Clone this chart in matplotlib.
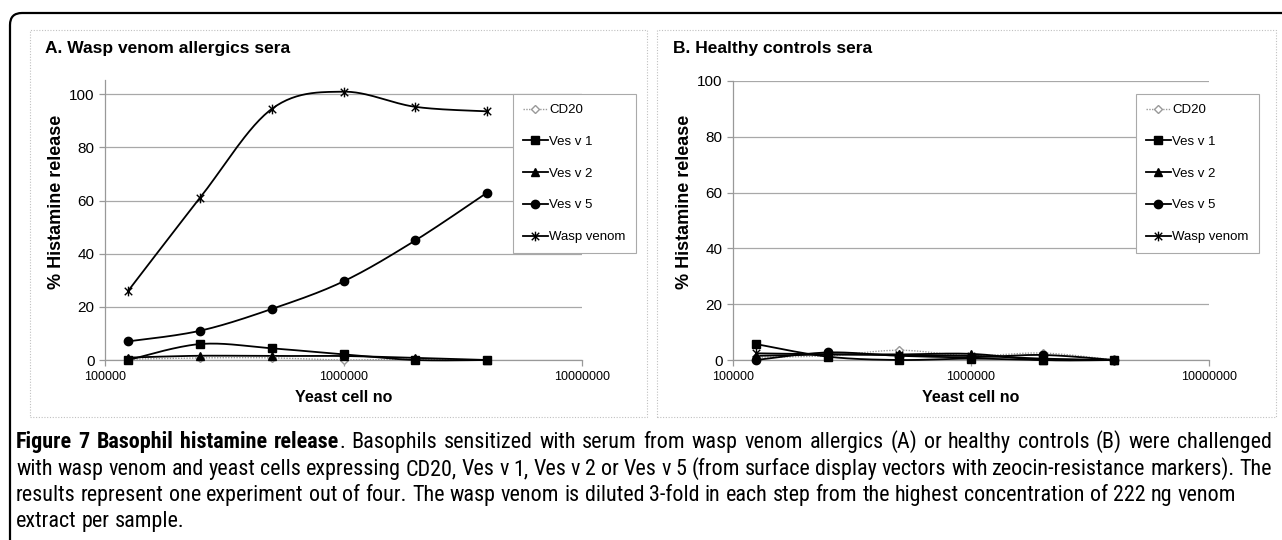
import numpy as np
import matplotlib
matplotlib.use("Agg")
import matplotlib.pyplot as plt
from matplotlib.lines import Line2D
from matplotlib.path import Path
from matplotlib.patches import FancyBboxPatch, Rectangle
from matplotlib.transforms import IdentityTransform
from matplotlib import font_manager

plt.rcParams["font.family"] = "Liberation Sans"

# yeast cells per sample
cells = [125000, 250000, 500000, 1000000, 2000000, 4000000]
labels = ["CD20", "Ves v 1", "Ves v 2", "Ves v 5", "Wasp venom"]

# A. wasp venom allergics sera (% histamine release)
a_cd20 = [0.3, 0.8, 0.8, 0.0, 0.3, 0.0]
a_vesv1 = [0.0, 6.0, 4.4, 2.1, 0.0, 0.0]
a_vesv2 = [0.9, 1.6, 1.5, 1.5, 0.8, 0.0]
a_vesv5 = [7.0, 11.0, 19.2, 29.6, 45.0, 63.0]
a_wasp = [26.0, 61.0, 94.5, 101.0, 95.3, 93.6]

# B. healthy controls sera
b_cd20 = [1.0, 1.5, 3.5, 1.5, 2.5, 0.0]
b_vesv1 = [5.7, 1.2, 0.0, 0.5, 0.0, 0.0]
b_vesv2 = [1.5, 2.0, 2.0, 2.2, 0.0, 0.0]
b_vesv5 = [0.0, 2.7, 1.5, 1.0, 1.8, 0.0]
b_wasp = [2.4, 2.0, 1.8, 1.5, 0.5, 0.0]

yticks = [0, 20, 40, 60, 80, 100]
xticks = [100000, 1000000, 10000000]

caption_bold = "Figure 7 Basophil histamine release"
caption_lines = [
    ". Basophils sensitized with serum from wasp venom allergics (A) or healthy controls (B) were challenged",
    "with wasp venom and yeast cells expressing CD20, Ves v 1, Ves v 2 or Ves v 5 (from surface display vectors with zeocin-resistance markers). The",
    "results represent one experiment out of four. The wasp venom is diluted 3-fold in each step from the highest concentration of 222 ng venom",
    "extract per sample.",
]

W, H = 1282, 540

# excel style asterisk marker
star = Path([(-1, -1), (1, 1), (-1, 1), (1, -1), (0, -1.3), (0, 1.3)],
            [Path.MOVETO, Path.LINETO] * 3)

styles = {
    "CD20": dict(color="#999999", ls=(0, (1, 1)), lw=1.0, marker="D", ms=4.5, mfc="white", mec="#999999"),
    "Ves v 1": dict(color="black", ls="-", lw=1.3, marker="s", ms=6, mfc="black", mec="black"),
    "Ves v 2": dict(color="black", ls="-", lw=1.3, marker="^", ms=6, mfc="black", mec="black"),
    "Ves v 5": dict(color="black", ls="-", lw=1.3, marker="o", ms=6, mfc="black", mec="black"),
    "Wasp venom": dict(color="black", ls="-", lw=1.3, marker=star, ms=7, mfc="none", mec="black"),
}


def smooth(xs, ys, n=30):
    # catmull-rom bezier like excel's smoothed line, in log-x space
    px = np.log10(np.array(xs, float))
    py = np.array(ys, float)
    ox, oy = [], []
    for i in range(len(px) - 1):
        i0 = max(i - 1, 0)
        i3 = min(i + 2, len(px) - 1)
        p0 = np.array([px[i], py[i]])
        p3 = np.array([px[i + 1], py[i + 1]])
        c1 = p0 + (p3 - np.array([px[i0], py[i0]])) / 6
        c2 = p3 - (np.array([px[i3], py[i3]]) - p0) / 6
        t = np.linspace(0, 1, n)[:, None]
        b = (1 - t) ** 3 * p0 + 3 * (1 - t) ** 2 * t * c1 + 3 * (1 - t) * t ** 2 * c2 + t ** 3 * p3
        ox.extend(b[:, 0])
        oy.extend(b[:, 1])
    return 10 ** np.array(ox), np.array(oy)


def panel(rect, data, ymax, title, legend_xy):
    x0, y0, x1, y1 = rect  # pixel box of the plot area (top-left origin)
    ax = fig.add_axes([x0 / W, 1 - y1 / H, (x1 - x0) / W, (y1 - y0) / H])
    for lab, ys in zip(labels, data):
        st = styles[lab]
        sx, sy = smooth(cells, ys)
        ax.plot(sx, sy, color=st["color"], ls=st["ls"], lw=st["lw"], zorder=3, clip_on=False)
        ax.plot(cells, ys, ls="none", marker=st["marker"], ms=st["ms"], mfc=st["mfc"],
                mec=st["mec"], mew=1.0, zorder=4, clip_on=False)
    ax.set_xscale("log")
    ax.set_xlim(1e5, 1e7)
    ax.set_ylim(0, ymax)
    ax.set_xticks(xticks)
    ax.set_xticklabels([str(v) for v in xticks], fontsize=9)
    ax.minorticks_off()
    ax.set_yticks(yticks)
    ax.set_yticklabels([str(v) for v in yticks], fontsize=11)
    ax.yaxis.grid(True, color="#a8a8a8", lw=0.9)
    ax.set_axisbelow(True)
    for s in ["top", "right"]:
        ax.spines[s].set_visible(False)
    for s in ["left", "bottom"]:
        ax.spines[s].set_color("#999999")
        ax.spines[s].set_linewidth(0.9)
    ax.tick_params(axis="both", colors="#999999", labelcolor="black", length=4, width=0.9)
    ax.tick_params(axis="x", pad=4)
    ax.set_xlabel("Yeast cell no", fontsize=11.5, fontweight="bold", labelpad=5)
    ax.set_ylabel("% Histamine release", fontsize=13, fontweight="bold")
    # label sits a little above the plot centre, as in the original
    ax.yaxis.set_label_coords(-40 / (x1 - x0), (y1 - 202) / (y1 - y0))
    fig.text((x0 - 60) / W, 1 - 48 / H, title, fontsize=12.5, fontweight="bold", va="center")
    handles = [Line2D([], [], color=styles[l]["color"], ls=styles[l]["ls"], lw=styles[l]["lw"],
                      marker=styles[l]["marker"], ms=styles[l]["ms"], mfc=styles[l]["mfc"],
                      mec=styles[l]["mec"], mew=1.0) for l in labels]
    leg = ax.legend(handles, labels, loc="upper left",
                    bbox_to_anchor=(legend_xy[0] / W, 1 - legend_xy[1] / H),
                    bbox_transform=fig.transFigure, fontsize=9.5, frameon=True, fancybox=False,
                    framealpha=1, edgecolor="#aaaaaa", handlelength=1.9, handletextpad=0.1,
                    labelspacing=1.48, borderpad=0.75, borderaxespad=0)
    leg.get_frame().set_linewidth(0.8)
    return ax


fig = plt.figure(figsize=(W / 100, H / 100), dpi=100)

# outer rounded frame and dotted panel borders (display pixels)
fig.add_artist(FancyBboxPatch((10, -30), 1300, H - 13 + 30, boxstyle="round,pad=0,rounding_size=12",
                              transform=IdentityTransform(), fill=False, ec="black", lw=1.6))
for bx0, bx1 in [(30, 647), (657, 1276)]:
    fig.add_artist(Rectangle((bx0, H - 417), bx1 - bx0, 417 - 30, transform=IdentityTransform(),
                             fill=False, ec="#c0c0c0", lw=0.8, ls=(0, (1, 1.5))))

panel((105, 80, 582, 360), [a_cd20, a_vesv1, a_vesv2, a_vesv5, a_wasp], 105.4,
      "A. Wasp venom allergics sera", (513, 94))
panel((733, 81, 1209, 360), [b_cd20, b_vesv1, b_vesv2, b_vesv5, b_wasp], 100,
      "B. Healthy controls sera", (1136, 94))

# caption: condensed font if there is one, first two lines justified
names = {f.name for f in font_manager.fontManager.ttflist}
cap_font = "Lato"
for cand in ["Liberation Sans Narrow", "Roboto Condensed", "Open Sans Condensed"]:
    if cand in names:
        cap_font = cand
        break
r = fig.canvas.get_renderer()


def measure(s, size, weight="normal"):
    t = fig.text(0, 0, s, fontsize=size, fontweight=weight, family=cap_font)
    w = t.get_window_extent(r).width
    t.remove()
    return w


groups = [[(w, "bold")] for w in caption_bold.split()]
groups[-1].append((caption_lines[0][0], "normal"))
groups += [[(w, "normal")] for w in caption_lines[0][1:].split()]
lines = [groups] + [[[(w, "normal")] for w in ln.split()] for ln in caption_lines[1:]]

left, right = 16, 1272
size = 10
gap10 = measure("x x", size) - measure("xx", size)
naturals = [sum(measure(t, size, wt) for g in ln for t, wt in g) + gap10 * (len(ln) - 1)
            for ln in lines[:3]]
size = size * (right - left) / max(naturals)
gap = measure("x x", size) - measure("xx", size)

baselines = [448, 475, 501, 527]
for i, (grp, y) in enumerate(zip(lines, baselines)):
    widths = [[measure(t, size, wt) for t, wt in g] for g in grp]
    total = sum(sum(w) for w in widths)
    g = (right - left - total) / (len(grp) - 1) if i < 2 else gap
    x = left
    for pieces, ws in zip(grp, widths):
        for (t, wt), w in zip(pieces, ws):
            fig.text(x / W, 1 - y / H, t, fontsize=size, fontweight=wt, family=cap_font,
                     va="baseline")
            x += w
        x += g

fig.savefig("out.png", dpi=100)
